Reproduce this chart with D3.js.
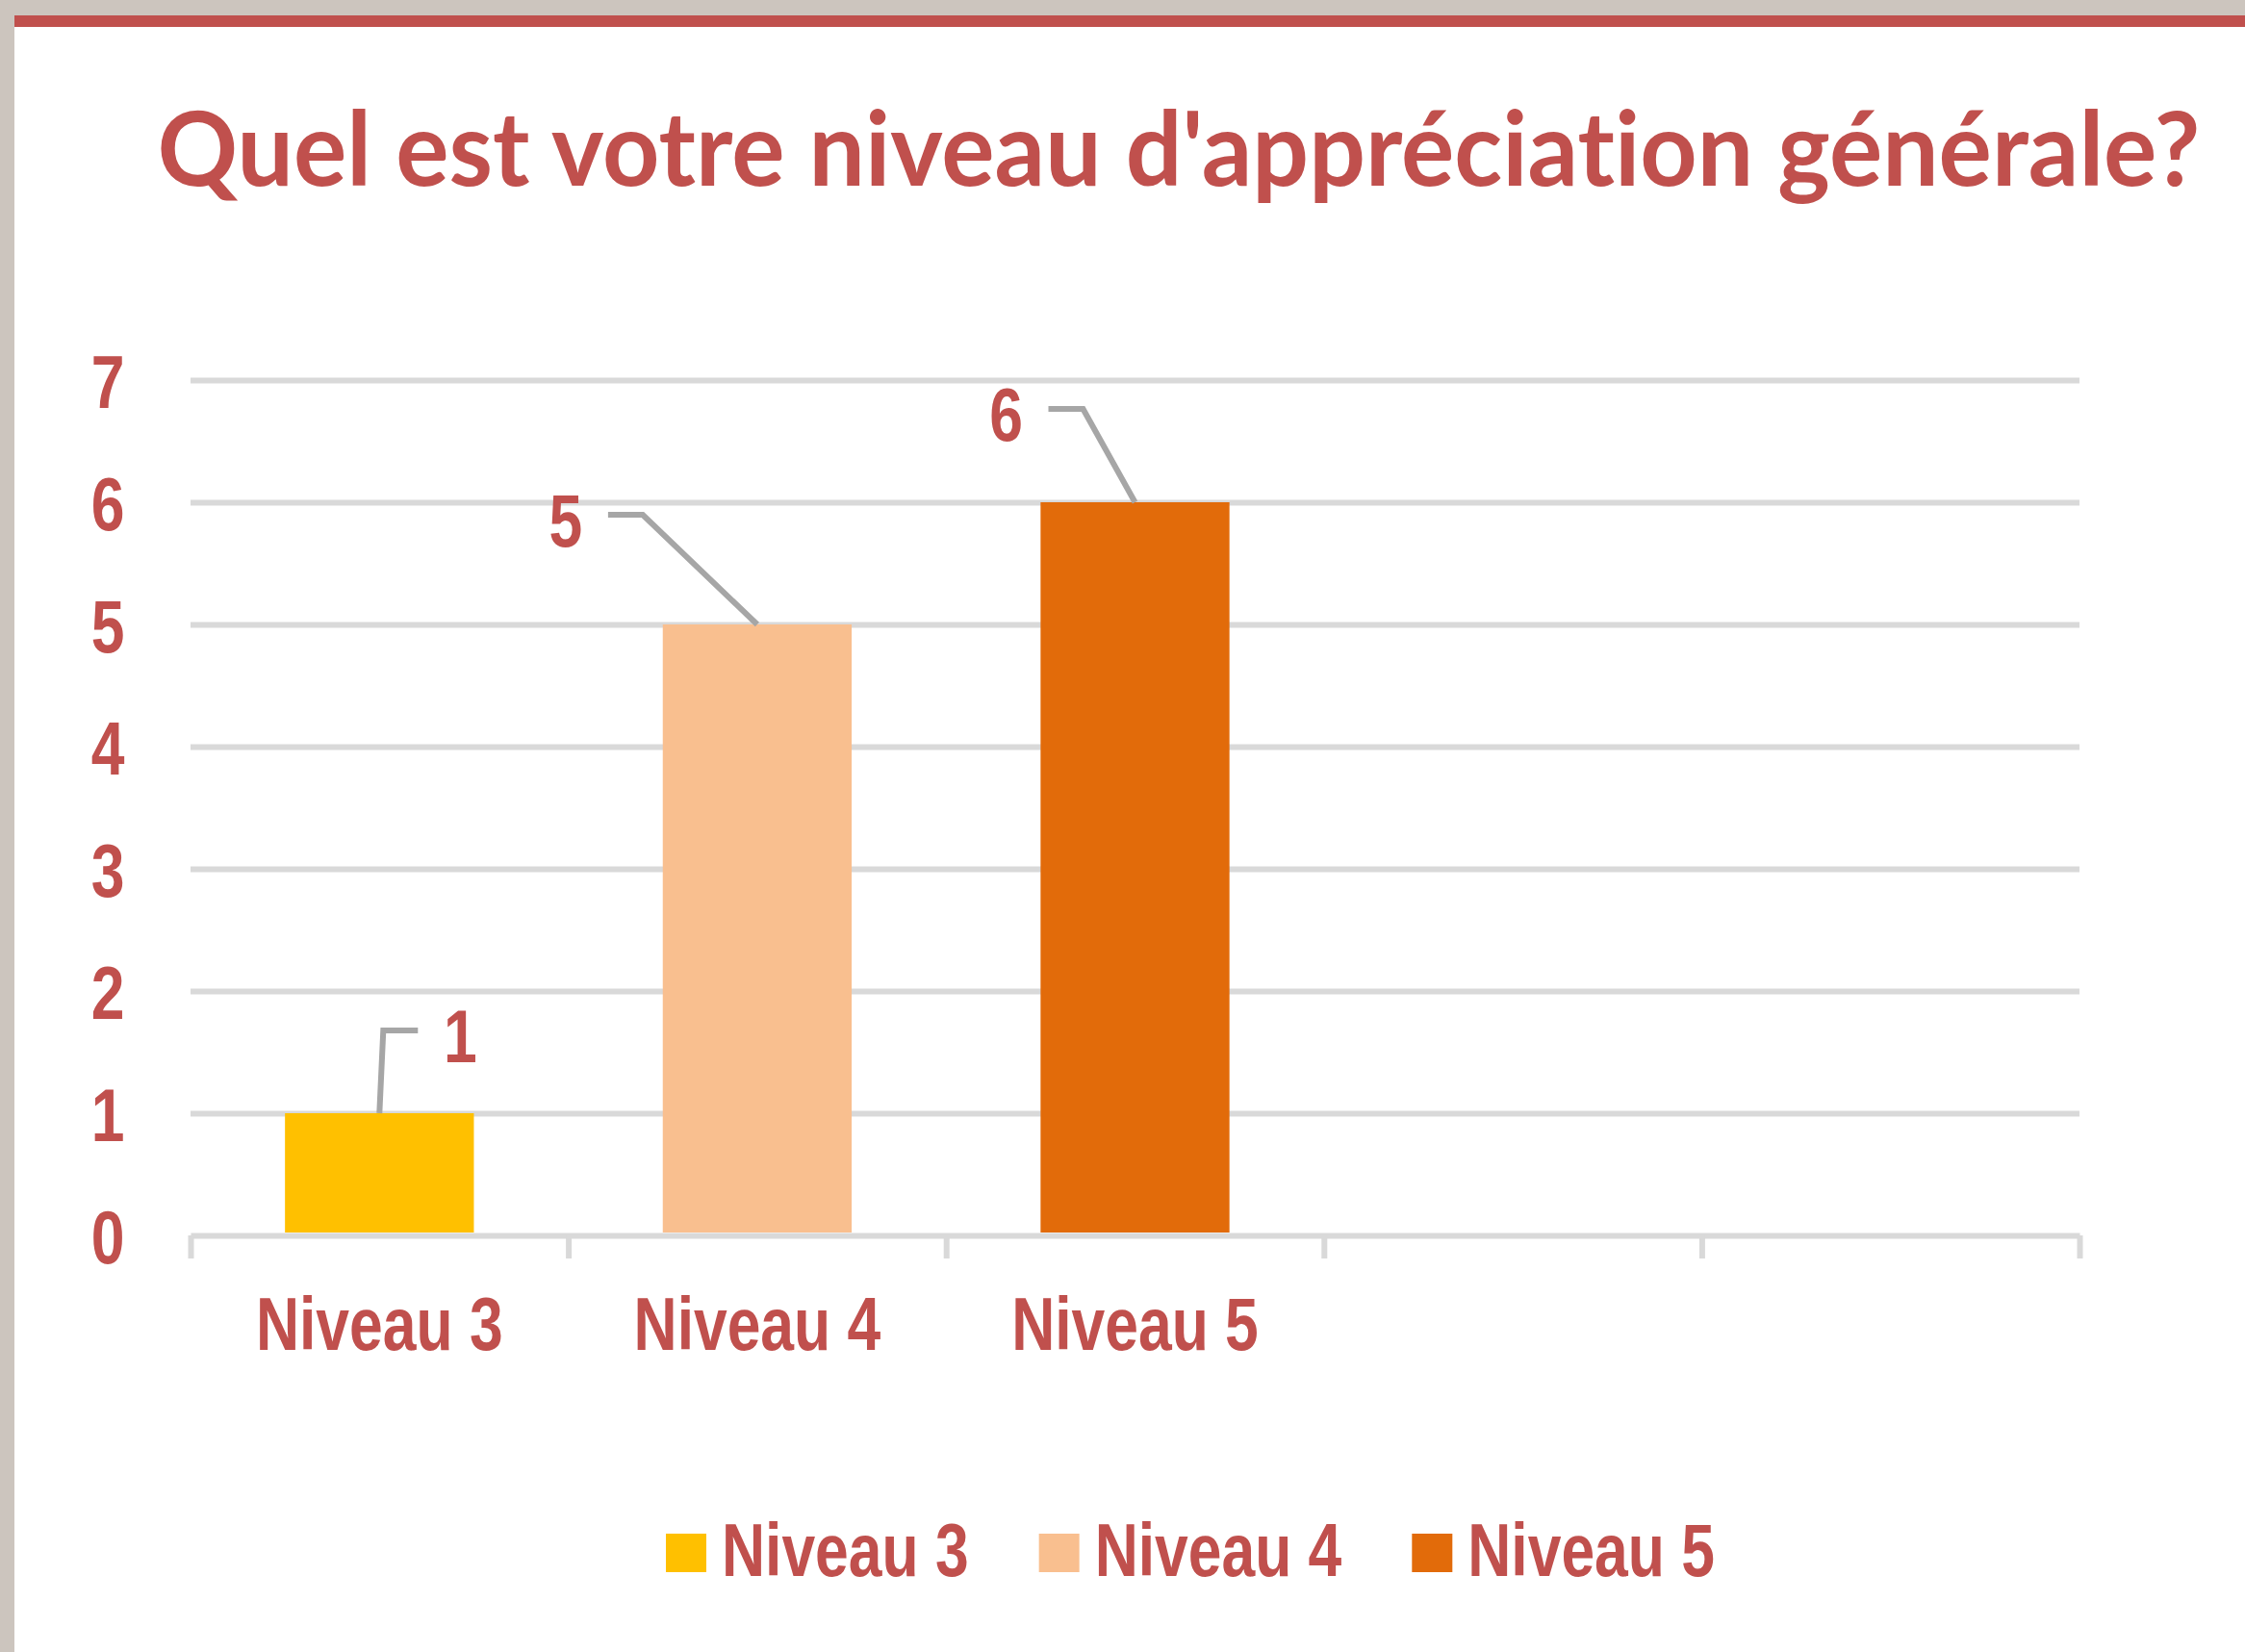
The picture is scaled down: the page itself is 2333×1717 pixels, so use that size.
<!DOCTYPE html>
<html>
<head>
<meta charset="utf-8">
<script src="https://cdn.jsdelivr.net/npm/d3@7/dist/d3.min.js"></script>
<style>
body { margin: 0; background: #fff; }
text { font-family: "Liberation Sans", Arial, sans-serif; font-weight: bold; fill: #C0504D; font-variant-ligatures: none; }
</style>
</head>
<body>
<svg width="2333" height="1717"></svg>
<script>
var title = "Quel est votre niveau d'appréciation générale?";
var categories = ['Niveau 3', 'Niveau 4', 'Niveau 5'];
var values = [1, 5, 6];
var colors = ['#FFC000', '#F9BF8F', '#E26B0A'];
var yTicks = [0, 1, 2, 3, 4, 5, 6, 7];
var slotCount = 5;   // the category axis has 5 slots, only 3 are filled
// data labels were dragged by hand in the original, offset from bar top centre
var labelNudge = [[84, -81], [-199, -109], [-134, -92]];

var svg = d3.select('svg');
var plotL = 198, plotR = 2161, plotT = 395, plotB = 1284;
var gridColor = '#D9D9D9';
var narrow = 0.8;   // no narrow face installed, squeeze the bold sans instead

// places a squeezed label at x,y
function squeezed(sel, x, y) {
	return sel.attr('x', 0).attr('y', 0)
		.attr('transform', 'translate(' + x + ',' + y + ') scale(' + narrow + ',1)')
		.style('font-size', '78px');
}

// frame: grey strips + red rule
svg.append('rect').attr('x', 0).attr('y', 0).attr('width', 2333).attr('height', 16).attr('fill', '#CCC5BE');
svg.append('rect').attr('x', 0).attr('y', 0).attr('width', 15).attr('height', 1717).attr('fill', '#CCC5BE');
svg.append('rect').attr('x', 15).attr('y', 16).attr('width', 2318).attr('height', 12).attr('fill', '#C0504D');

// title, squeezed to the width it has in the original
var titleText = svg.append('text')
	.attr('x', 0).attr('y', 0)
	.attr('text-anchor', 'middle')
	.style('font-family', 'Lato, "Open Sans", sans-serif')
	.style('font-size', '108px')
	.text(title);
var tw = titleText.node().getComputedTextLength();
titleText.attr('transform', 'translate(1225,193) scale(' + (2123 / tw) + ',1)');

var y = d3.scaleLinear().domain([0, 7]).range([plotB, plotT]);
var x = d3.scaleBand().domain(d3.range(slotCount)).range([plotL, plotR])
	.paddingInner(0.5).paddingOuter(0.25);
var slot = d3.scaleLinear().domain([0, slotCount]).range([plotL, plotR]);

// gridlines
var grid = svg.append('g').attr('transform', 'translate(' + plotL + ',0)')
	.call(d3.axisLeft(y).tickValues(yTicks.slice(1)).tickSize(-(plotR - plotL)).tickFormat(''));
grid.select('.domain').remove();
grid.selectAll('line').attr('stroke', gridColor).attr('stroke-width', 6);

// y labels
var yAxis = svg.append('g').attr('transform', 'translate(' + plotL + ',0)')
	.call(d3.axisLeft(y).tickValues(yTicks).tickSize(0).tickFormat(d3.format('d')));
yAxis.select('.domain').remove();
yAxis.selectAll('.tick text').each(function(d) {
	squeezed(d3.select(this), -86, 0).attr('dy', '0.36em').attr('text-anchor', 'middle').attr('fill', null);
});

// x axis line with slot boundary ticks
var xAxis = svg.append('g').attr('transform', 'translate(0,' + plotB + ')')
	.call(d3.axisBottom(slot).ticks(slotCount).tickSize(24).tickSizeOuter(0).tickFormat(''));
xAxis.select('.domain').attr('stroke', gridColor).attr('stroke-width', 6);
xAxis.selectAll('line').attr('stroke', gridColor).attr('stroke-width', 6);

// bars
svg.selectAll('.bar').data(values).enter().append('rect')
	.attr('class', 'bar')
	.attr('x', function(d, i) { return x(i); })
	.attr('width', x.bandwidth())
	.attr('y', function(d) { return y(d); })
	.attr('height', function(d) { return y(0) - y(d) - 3; })
	.attr('fill', function(d, i) { return colors[i]; });

// category labels
svg.selectAll('.cat').data(categories).enter().append('text')
	.attr('class', 'cat')
	.attr('text-anchor', 'middle')
	.text(function(d) { return d; })
	.each(function(d, i) { squeezed(d3.select(this), x(i) + x.bandwidth() / 2, 1403); });

// data labels with leader lines
values.forEach(function(v, i) {
	var bx = x(i) + x.bandwidth() / 2, by = y(v);
	var cx = bx + labelNudge[i][0], cy = by + labelNudge[i][1];
	var side = labelNudge[i][0] > 0 ? -1 : 1;
	var x1 = cx + side * 44, x2 = cx + side * 80, ly = cy - 5;
	svg.append('path')
		.attr('d', 'M' + x1 + ',' + ly + 'L' + x2 + ',' + ly + 'L' + bx + ',' + by)
		.attr('fill', 'none').attr('stroke', '#A6A6A6').attr('stroke-width', 6);
	squeezed(svg.append('text'), cx, cy)
		.attr('dy', '0.36em')
		.attr('text-anchor', 'middle')
		.text(v);
});

// legend
var lx = 692;
categories.forEach(function(c, i) {
	svg.append('rect').attr('x', lx).attr('y', 1594).attr('width', 42).attr('height', 40).attr('fill', colors[i]);
	var t = squeezed(svg.append('text'), lx + 58, 1638).text(c);
	lx += 58 + t.node().getComputedTextLength() * narrow + 73;
});
</script>
</body>
</html>
